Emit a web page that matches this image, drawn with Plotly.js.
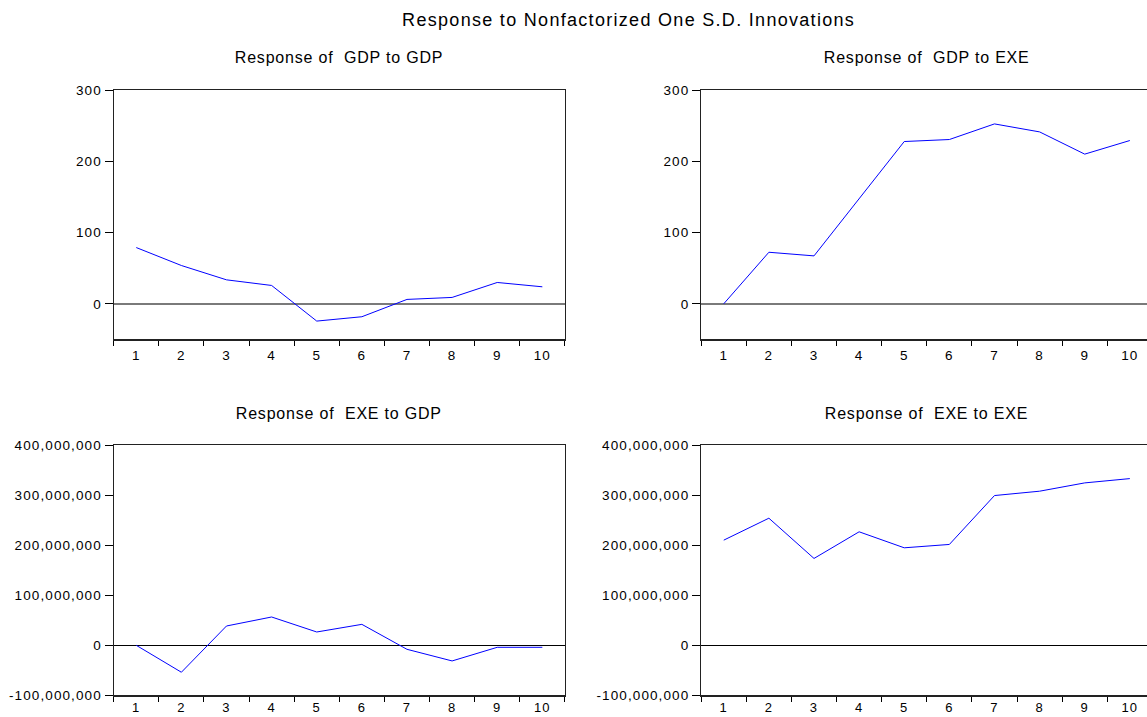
<!DOCTYPE html>
<html>
<head>
<meta charset="utf-8">
<script src="https://cdn.plot.ly/plotly-3.0.1.min.js"></script>
<style>
html, body { margin: 0; padding: 0; overflow: hidden; background: #fff; }
#chart { width: 1160px; height: 717px; }
</style>
</head>
<body>
<div id="chart"></div>
<script>
// ---- data ----
const periods = ['1', '2', '3', '4', '5', '6', '7', '8', '9', '10'];
const gdpToGdp = [78.9, 53.7, 33.6, 25.7, -24.3, -18.2, 6.1, 8.9, 29.9, 23.8];
const gdpToExe = [0, 72.3, 67.2, 147, 227.7, 230.5, 252.4, 241.2, 210, 229.1];
const exeToGdp = [0, -53.9e6, 38.6e6, 56.6e6, 26.6e6, 41.9e6, -8.0e6, -31.3e6, -4.0e6, -4.0e6];
const exeToExe = [210.3e6, 254.2e6, 173.7e6, 227.0e6, 195.0e6, 201.7e6, 299.5e6, 308.2e6, 324.8e6, 333.4e6];

const gdpTickVals = [0, 100, 200, 300];
const gdpTickText = ['0', '100', '200', '300'];
const exeTickVals = [-100e6, 0, 100e6, 200e6, 300e6, 400e6];
const exeTickText = ['-100,000,000', '0', '100,000,000', '200,000,000', '300,000,000', '400,000,000'];

const mainTitle = 'Response to Nonfactorized One S.D. Innovations';
const panelTitles = ['Response of  GDP to GDP', 'Response of  GDP to EXE', 'Response of  EXE to GDP', 'Response of  EXE to EXE'];

// ---- geometry ----
const W = 1160, H = 717;
const fx = px => px / W;
const fy = py => 1 - py / H;
const leftDom = [fx(113.7), fx(564.9)];
const rightDom = [fx(701.2), fx(1152.4)];
const topDom = [fy(339.4), fy(90)];
const botDom = [fy(695.3), fy(445.3)];

const FONT = 'Liberation Sans, Arial, sans-serif';
const lineStyle = { color: '#0000FF', width: 1 };

const traces = [
  { x: periods, y: gdpToGdp, xaxis: 'x', yaxis: 'y' },
  { x: periods, y: gdpToExe, xaxis: 'x2', yaxis: 'y2' },
  { x: periods, y: exeToGdp, xaxis: 'x3', yaxis: 'y3' },
  { x: periods, y: exeToExe, xaxis: 'x4', yaxis: 'y4' }
].map(t => Object.assign(t, { type: 'scatter', mode: 'lines', line: lineStyle, hoverinfo: 'skip', showlegend: false }));

function xAx(dom, anchor, standoff, fsize) {
  return {
    domain: dom, anchor: anchor, type: 'category', range: [-0.5, 9.5],
    tickson: 'boundaries', ticks: 'outside', ticklen: 5, tickcolor: '#000', tickwidth: 1,
    ticklabelstandoff: standoff,
    showline: true, mirror: true, linecolor: '#222', linewidth: 1.2,
    showgrid: false, zeroline: false, fixedrange: true,
    tickfont: { family: FONT, size: fsize, color: '#000' }
  };
}
function yAx(dom, anchor, range, vals, text, zc, zw) {
  return {
    domain: dom, anchor: anchor, range: range,
    tickmode: 'array', tickvals: vals, ticktext: text,
    ticks: 'outside', ticklen: 8, tickcolor: '#000', tickwidth: 1,
    ticklabelstandoff: 0,
    showline: true, mirror: true, linecolor: '#222', linewidth: 1.2,
    showgrid: false, zeroline: true, zerolinecolor: zc, zerolinewidth: zw,
    fixedrange: true,
    tickfont: { family: FONT, size: 13.5, color: '#000' }
  };
}

const ann = (text, x, y, size) => ({
  text: text, xref: 'paper', yref: 'paper', x: x, y: y,
  xanchor: 'center', yanchor: 'middle', showarrow: false,
  font: { family: FONT, size: size, color: '#000' }
});

const layout = {
  width: W, height: H,
  margin: { l: 0, r: 0, t: 0, b: 0, pad: 0 },
  paper_bgcolor: '#fff', plot_bgcolor: '#fff',
  showlegend: false,
  xaxis: xAx(leftDom, 'y', 3, 13.5),
  yaxis: yAx(topDom, 'x', [-50, 300], gdpTickVals, gdpTickText, '#7a7a7a', 1.5),
  xaxis2: xAx(rightDom, 'y2', 3, 13.5),
  yaxis2: yAx(topDom, 'x2', [-50, 300], gdpTickVals, gdpTickText, '#7a7a7a', 1.5),
  xaxis3: xAx(leftDom, 'y3', 0, 13),
  yaxis3: yAx(botDom, 'x3', [-100e6, 400e6], exeTickVals, exeTickText, '#000', 1),
  xaxis4: xAx(rightDom, 'y4', 0, 13),
  yaxis4: yAx(botDom, 'x4', [-100e6, 400e6], exeTickVals, exeTickText, '#000', 1),
  annotations: [
    ann(mainTitle, fx(629), fy(20), 18),
    ann(panelTitles[0], fx(339.3), fy(58), 16),
    ann(panelTitles[1], fx(926.8), fy(58), 16),
    ann(panelTitles[2], fx(339.3), fy(414), 16),
    ann(panelTitles[3], fx(926.8), fy(414), 16)
  ]
};

Plotly.newPlot('chart', traces, layout, { staticPlot: true, displayModeBar: false }).then(() => {
  document.querySelectorAll('.annotation-text').forEach((el, i) => {
    el.style.letterSpacing = i === 0 ? '1.3px' : '0.8px';
  });
  document.querySelectorAll('.xaxislayer-above text, .yaxislayer-above text').forEach(el => {
    el.style.letterSpacing = '1.1px';
  });
});
</script>
</body>
</html>
